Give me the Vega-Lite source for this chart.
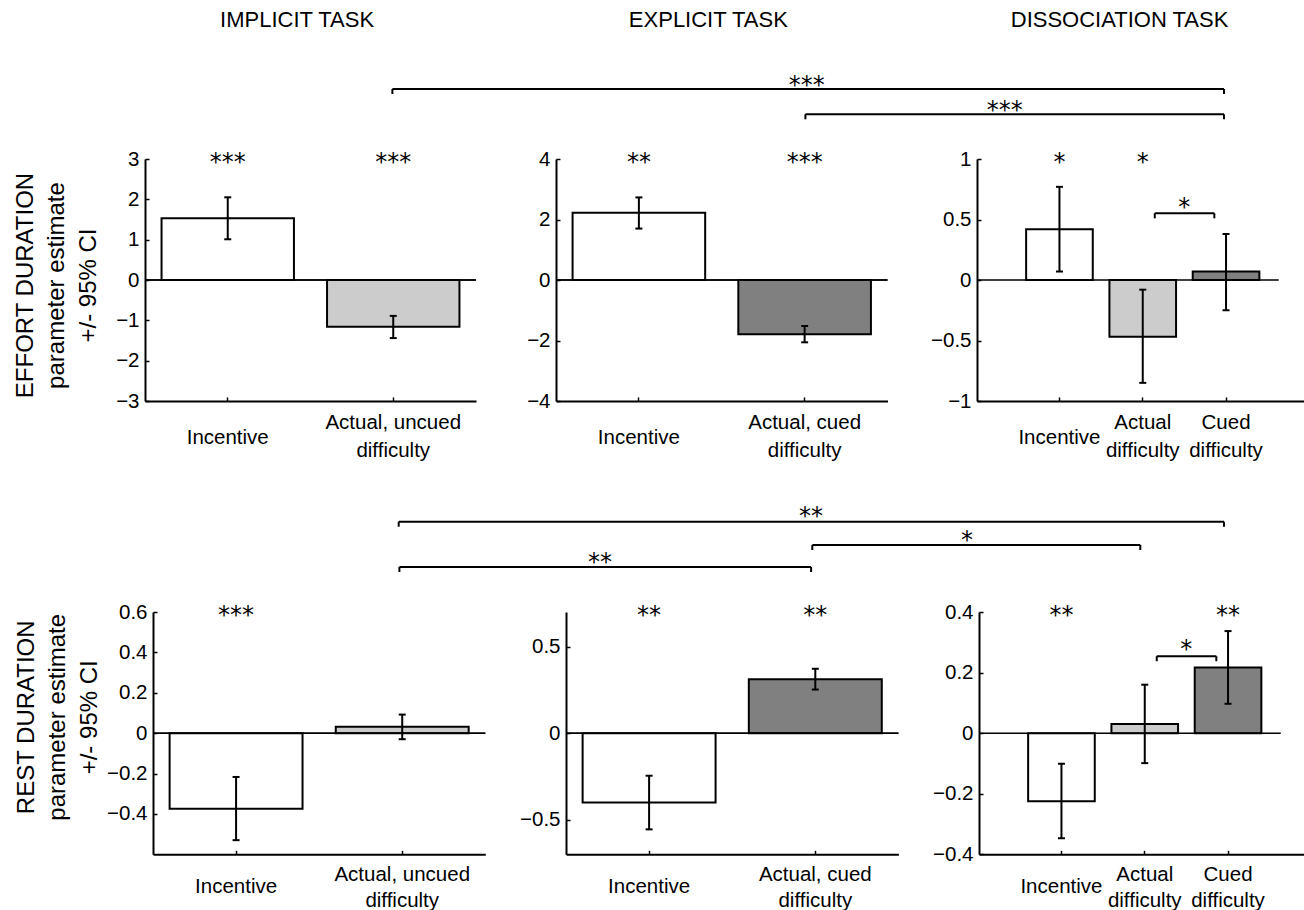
{
  "$schema": "https://vega.github.io/schema/vega-lite/v6.json",
  "background": "white",
  "padding": {"left": 0, "top": 0, "right": 0, "bottom": 0},
  "datasets": {
    "effortImplicit": [
      {"condition": "Incentive", "kind": "incentive", "estimate": 1.53, "lo": 1.01, "hi": 2.05, "sig": "***"},
      {"condition": "Actual, uncued difficulty", "kind": "uncued", "estimate": -1.16, "lo": -1.44, "hi": -0.89, "sig": "***"}
    ],
    "effortExplicit": [
      {"condition": "Incentive", "kind": "incentive", "estimate": 2.22, "lo": 1.70, "hi": 2.73, "sig": "**"},
      {"condition": "Actual, cued difficulty", "kind": "cued", "estimate": -1.79, "lo": -2.06, "hi": -1.52, "sig": "***"}
    ],
    "effortDissociation": [
      {"condition": "Incentive", "kind": "incentive", "estimate": 0.42, "lo": 0.07, "hi": 0.77, "sig": "*"},
      {"condition": "Actual difficulty", "kind": "uncued", "estimate": -0.47, "lo": -0.85, "hi": -0.08, "sig": "*"},
      {"condition": "Cued difficulty", "kind": "cued", "estimate": 0.07, "lo": -0.25, "hi": 0.38, "sig": ""}
    ],
    "restImplicit": [
      {"condition": "Incentive", "kind": "incentive", "estimate": -0.375, "lo": -0.53, "hi": -0.217, "sig": "***"},
      {"condition": "Actual, uncued difficulty", "kind": "uncued", "estimate": 0.032, "lo": -0.03, "hi": 0.092, "sig": ""}
    ],
    "restExplicit": [
      {"condition": "Incentive", "kind": "incentive", "estimate": -0.40, "lo": -0.556, "hi": -0.246, "sig": "**"},
      {"condition": "Actual, cued difficulty", "kind": "cued", "estimate": 0.312, "lo": 0.252, "hi": 0.372, "sig": "**"}
    ],
    "restDissociation": [
      {"condition": "Incentive", "kind": "incentive", "estimate": -0.225, "lo": -0.347, "hi": -0.101, "sig": "**"},
      {"condition": "Actual difficulty", "kind": "uncued", "estimate": 0.030, "lo": -0.099, "hi": 0.160, "sig": ""},
      {"condition": "Cued difficulty", "kind": "cued", "estimate": 0.217, "lo": 0.097, "hi": 0.337, "sig": "**"}
    ],
    "effortWithinDissociation": [
      {"from": "Actual difficulty", "to": "Cued difficulty", "level": 0.551, "sig": "*"}
    ],
    "restWithinDissociation": [
      {"from": "Actual difficulty", "to": "Cued difficulty", "level": 0.254, "sig": "*"}
    ],
    "taskTitles": [
      {"task": "IMPLICIT TASK"},
      {"task": "EXPLICIT TASK"},
      {"task": "DISSOCIATION TASK"}
    ],
    "effortAcrossTasks": [
      {"left": 391.7, "right": 1223.3, "level": 89, "mid": 806, "sig": "***"},
      {"left": 804.7, "right": 1223.3, "level": 114.3, "mid": 1004, "sig": "***"}
    ],
    "restAcrossTasks": [
      {"left": 398, "right": 1223.3, "level": 521.7, "mid": 810.4, "sig": "**"},
      {"left": 811.6, "right": 1139.6, "level": 545, "mid": 966.4, "sig": "*"},
      {"left": 398.7, "right": 810.4, "level": 567, "mid": 599.4, "sig": "**"}
    ],
    "gap": [{"gap": 0}],
    "frame": [{"frame": "layout anchor"}]
  },
  "vconcat": [
    {
      "width": 1159.7,
      "height": 40,
      "layer": [
        {
          "data": {"name": "taskTitles"},
          "mark": {"type": "text", "font": "Liberation Sans", "fontSize": 22, "baseline": "middle", "align": "center", "color": "black"},
          "encoding": {
            "x": {"field": "task", "type": "nominal", "sort": null, "scale": {"type": "point", "padding": 0.41, "align": 0.451}, "axis": null},
            "text": {"field": "task"}
          }
        },
        {
          "data": {"name": "frame"},
          "mark": {"type": "rule", "strokeOpacity": 0},
          "encoding": {
            "y": {"datum": 0, "type": "quantitative", "scale": {"domain": [0, 1], "nice": false, "zero": false}, "axis": null},
            "y2": {"datum": 1}
          }
        }
      ]
    },
    {
      "width": 1159.7,
      "height": 89,
      "layer": [
        {
          "data": {"name": "frame"},
          "mark": {"type": "rule", "strokeOpacity": 0},
          "encoding": {
            "x": {"datum": 0, "type": "quantitative", "scale": {"domain": [144.3, 1304], "nice": false, "zero": false}, "axis": null},
            "y": {"datum": 40, "type": "quantitative", "scale": {"domain": [129, 40], "nice": false, "zero": false}, "axis": null},
            "y2": {"datum": 129}
          }
        },
        {
          "data": {"name": "effortAcrossTasks"},
          "encoding": {
            "x": {"field": "left", "type": "quantitative", "axis": null},
            "y": {"field": "level", "type": "quantitative", "axis": null}
          },
          "layer": [
            {"mark": {"type": "rule", "color": "black", "strokeWidth": 2}, "encoding": {"x2": {"field": "right"}}},
            {"mark": {"type": "rule", "color": "black", "strokeWidth": 2, "y2Offset": 5}, "encoding": {"y2": {"field": "level"}}},
            {"mark": {"type": "rule", "color": "black", "strokeWidth": 2, "y2Offset": 5}, "encoding": {"x": {"field": "right", "type": "quantitative", "axis": null}, "y2": {"field": "level"}}},
            {"mark": {"type": "text", "font": "DejaVu Sans", "fontSize": 24, "baseline": "alphabetic", "dy": 3.7, "color": "black"}, "encoding": {"x": {"field": "mid", "type": "quantitative", "axis": null}, "text": {"field": "sig"}}}
          ]
        }
      ]
    },
    {
      "hconcat": [
        {
          "width": 331, "height": 242,
          "data": {"name": "effortImplicit"},
          "layer": [
            {
              "mark": {"type": "bar", "stroke": "black", "strokeWidth": 2, "opacity": 1},
              "encoding": {
                "x": {"field": "condition", "type": "nominal", "sort": null, "scale": {"domain": ["Incentive", "Actual, uncued difficulty"], "paddingInner": 0.2, "paddingOuter": 0.1},
                  "axis": {"title": null, "labelExpr": "split(replace(datum.label, ' difficulty', '|difficulty'), '|')", "labelPadding": {"condition": {"test": "indexof(datum.value, 'difficulty') >= 0", "value": 25}, "value": 40.2}}},
                "y": {"field": "estimate", "type": "quantitative", "scale": {"domain": [-3, 3], "nice": false, "zero": false},
                  "axis": {"values": [-3, -2, -1, 0, 1, 2, 3], "format": ".1~f", "title": ["EFFORT DURATION", "parameter estimate", "+/- 95% CI"], "titleX": -112.6, "titleY": 126}},
                "y2": {"datum": 0},
                "fill": {"field": "kind", "type": "nominal", "scale": {"domain": ["incentive", "uncued", "cued"], "range": ["#ffffff", "#cccccc", "#808080"]}, "legend": null}
              }
            },
            {"mark": {"type": "rule", "color": "black", "strokeWidth": 1.5}, "encoding": {"y": {"datum": 0, "type": "quantitative"}}},
            {"mark": {"type": "rule", "color": "black", "strokeWidth": 2}, "encoding": {"x": {"field": "condition", "type": "nominal", "title": null}, "y": {"field": "lo", "type": "quantitative"}, "y2": {"field": "hi"}}},
            {"mark": {"type": "tick", "color": "black", "thickness": 2, "size": 7, "opacity": 1}, "encoding": {"x": {"field": "condition", "type": "nominal", "title": null}, "y": {"field": "lo", "type": "quantitative"}}},
            {"mark": {"type": "tick", "color": "black", "thickness": 2, "size": 7, "opacity": 1}, "encoding": {"x": {"field": "condition", "type": "nominal", "title": null}, "y": {"field": "hi", "type": "quantitative"}}},
            {"mark": {"type": "text", "font": "DejaVu Sans", "fontSize": 24, "baseline": "alphabetic", "dy": 10.5, "color": "black"}, "encoding": {"x": {"field": "condition", "type": "nominal", "title": null}, "y": {"datum": 3, "type": "quantitative"}, "text": {"field": "sig"}}},
            {"mark": {"type": "rule", "strokeOpacity": 0, "yOffset": -30, "y2Offset": 80}, "encoding": {"y": {"datum": 3, "type": "quantitative"}, "y2": {"datum": -3}}}
          ]
        },
        {"width": 80, "height": 242, "data": {"name": "gap"}, "mark": {"type": "point", "opacity": 0, "size": 1}, "encoding": {"x": {"field": "gap", "type": "quantitative", "axis": null}, "y": {"field": "gap", "type": "quantitative", "axis": null}}},
        {
          "width": 331.5, "height": 242,
          "data": {"name": "effortExplicit"},
          "layer": [
            {
              "mark": {"type": "bar", "stroke": "black", "strokeWidth": 2, "opacity": 1},
              "encoding": {
                "x": {"field": "condition", "type": "nominal", "sort": null, "scale": {"domain": ["Incentive", "Actual, cued difficulty"], "paddingInner": 0.2, "paddingOuter": 0.1},
                  "axis": {"title": null, "labelExpr": "split(replace(datum.label, ' difficulty', '|difficulty'), '|')", "labelPadding": {"condition": {"test": "indexof(datum.value, 'difficulty') >= 0", "value": 25}, "value": 40.2}}},
                "y": {"field": "estimate", "type": "quantitative", "scale": {"domain": [-4, 4], "nice": false, "zero": false},
                  "axis": {"values": [-4, -2, 0, 2, 4], "format": ".1~f", "title": null}},
                "y2": {"datum": 0},
                "fill": {"field": "kind", "type": "nominal", "scale": {"domain": ["incentive", "uncued", "cued"], "range": ["#ffffff", "#cccccc", "#808080"]}, "legend": null}
              }
            },
            {"mark": {"type": "rule", "color": "black", "strokeWidth": 1.5}, "encoding": {"y": {"datum": 0, "type": "quantitative"}}},
            {"mark": {"type": "rule", "color": "black", "strokeWidth": 2}, "encoding": {"x": {"field": "condition", "type": "nominal", "title": null}, "y": {"field": "lo", "type": "quantitative"}, "y2": {"field": "hi"}}},
            {"mark": {"type": "tick", "color": "black", "thickness": 2, "size": 7, "opacity": 1}, "encoding": {"x": {"field": "condition", "type": "nominal", "title": null}, "y": {"field": "lo", "type": "quantitative"}}},
            {"mark": {"type": "tick", "color": "black", "thickness": 2, "size": 7, "opacity": 1}, "encoding": {"x": {"field": "condition", "type": "nominal", "title": null}, "y": {"field": "hi", "type": "quantitative"}}},
            {"mark": {"type": "text", "font": "DejaVu Sans", "fontSize": 24, "baseline": "alphabetic", "dy": 10.5, "color": "black"}, "encoding": {"x": {"field": "condition", "type": "nominal", "title": null}, "y": {"datum": 4, "type": "quantitative"}, "text": {"field": "sig"}}}
          ]
        },
        {"width": 88.2, "height": 242, "data": {"name": "gap"}, "mark": {"type": "point", "opacity": 0, "size": 1}, "encoding": {"x": {"field": "gap", "type": "quantitative", "axis": null}, "y": {"field": "gap", "type": "quantitative", "axis": null}}},
        {
          "width": 329, "height": 242,
          "data": {"name": "effortDissociation"},
          "layer": [
            {
              "mark": {"type": "bar", "stroke": "black", "strokeWidth": 2, "opacity": 1},
              "encoding": {
                "x": {"field": "condition", "type": "nominal", "sort": null, "scale": {"domain": ["Incentive", "Actual difficulty", "Cued difficulty"], "paddingInner": 0.2, "paddingOuter": 0.575, "align": 0.513},
                  "axis": {"title": null, "labelExpr": "split(replace(datum.label, ' difficulty', '|difficulty'), '|')", "labelPadding": {"condition": {"test": "indexof(datum.value, 'difficulty') >= 0", "value": 25}, "value": 40.2}}},
                "y": {"field": "estimate", "type": "quantitative", "scale": {"domain": [-1, 1], "nice": false, "zero": false},
                  "axis": {"values": [-1, -0.5, 0, 0.5, 1], "format": ".1~f", "title": null}},
                "y2": {"datum": 0},
                "fill": {"field": "kind", "type": "nominal", "scale": {"domain": ["incentive", "uncued", "cued"], "range": ["#ffffff", "#cccccc", "#808080"]}, "legend": null}
              }
            },
            {"transform": [{"filter": "datum.condition == 'Actual difficulty'"}], "mark": {"type": "tick", "orient": "horizontal", "color": "black", "thickness": 1.5, "size": 301.7, "xOffset": -14.85, "opacity": 1}, "encoding": {"x": {"field": "condition", "type": "nominal", "title": null}, "y": {"datum": 0, "type": "quantitative"}}},
            {"mark": {"type": "rule", "color": "black", "strokeWidth": 2}, "encoding": {"x": {"field": "condition", "type": "nominal", "title": null}, "y": {"field": "lo", "type": "quantitative"}, "y2": {"field": "hi"}}},
            {"mark": {"type": "tick", "color": "black", "thickness": 2, "size": 7, "opacity": 1}, "encoding": {"x": {"field": "condition", "type": "nominal", "title": null}, "y": {"field": "lo", "type": "quantitative"}}},
            {"mark": {"type": "tick", "color": "black", "thickness": 2, "size": 7, "opacity": 1}, "encoding": {"x": {"field": "condition", "type": "nominal", "title": null}, "y": {"field": "hi", "type": "quantitative"}}},
            {"mark": {"type": "text", "font": "DejaVu Sans", "fontSize": 24, "baseline": "alphabetic", "dy": 10.5, "color": "black"}, "encoding": {"x": {"field": "condition", "type": "nominal", "title": null}, "y": {"datum": 1, "type": "quantitative"}, "text": {"field": "sig"}}},
            {
              "data": {"name": "effortWithinDissociation"},
              "layer": [
                {"mark": {"type": "tick", "orient": "horizontal", "color": "black", "thickness": 2, "size": 59.6, "xOffset": 41.8, "opacity": 1}, "encoding": {"x": {"field": "from", "type": "nominal", "title": null}, "y": {"field": "level", "type": "quantitative", "title": null}}},
                {"mark": {"type": "rule", "color": "black", "strokeWidth": 2, "xOffset": 12, "y2Offset": 5}, "encoding": {"x": {"field": "from", "type": "nominal", "title": null}, "y": {"field": "level", "type": "quantitative", "title": null}, "y2": {"field": "level"}}},
                {"mark": {"type": "rule", "color": "black", "strokeWidth": 2, "xOffset": -11.7, "y2Offset": 5}, "encoding": {"x": {"field": "to", "type": "nominal", "title": null}, "y": {"field": "level", "type": "quantitative", "title": null}, "y2": {"field": "level"}}},
                {"mark": {"type": "text", "font": "DejaVu Sans", "fontSize": 24, "baseline": "alphabetic", "dx": 41.6, "dy": 1.5, "color": "black"}, "encoding": {"x": {"field": "from", "type": "nominal", "title": null}, "y": {"field": "level", "type": "quantitative", "title": null}, "text": {"field": "sig"}}}
              ]
            }
          ]
        }
      ],
      "spacing": 0,
      "bounds": "flush"
    },
    {
      "width": 1159.7,
      "height": 100.7,
      "layer": [
        {
          "data": {"name": "frame"},
          "mark": {"type": "rule", "strokeOpacity": 0},
          "encoding": {
            "x": {"datum": 0, "type": "quantitative", "scale": {"domain": [144.3, 1304], "nice": false, "zero": false}, "axis": null},
            "y": {"datum": 481, "type": "quantitative", "scale": {"domain": [581.7, 481], "nice": false, "zero": false}, "axis": null},
            "y2": {"datum": 581.7}
          }
        },
        {
          "data": {"name": "restAcrossTasks"},
          "encoding": {
            "x": {"field": "left", "type": "quantitative", "axis": null},
            "y": {"field": "level", "type": "quantitative", "axis": null}
          },
          "layer": [
            {"mark": {"type": "rule", "color": "black", "strokeWidth": 2}, "encoding": {"x2": {"field": "right"}}},
            {"mark": {"type": "rule", "color": "black", "strokeWidth": 2, "y2Offset": 5}, "encoding": {"y2": {"field": "level"}}},
            {"mark": {"type": "rule", "color": "black", "strokeWidth": 2, "y2Offset": 5}, "encoding": {"x": {"field": "right", "type": "quantitative", "axis": null}, "y2": {"field": "level"}}},
            {"mark": {"type": "text", "font": "DejaVu Sans", "fontSize": 24, "baseline": "alphabetic", "dy": 2.7, "color": "black"}, "encoding": {"x": {"field": "mid", "type": "quantitative", "axis": null}, "text": {"field": "sig"}}}
          ]
        }
      ]
    },
    {
      "hconcat": [
        {"width": 7.4, "height": 242.3, "data": {"name": "gap"}, "mark": {"type": "point", "opacity": 0, "size": 1}, "encoding": {"x": {"field": "gap", "type": "quantitative", "axis": null}, "y": {"field": "gap", "type": "quantitative", "axis": null}}},
        {
          "width": 332.3, "height": 242.3,
          "data": {"name": "restImplicit"},
          "layer": [
            {
              "mark": {"type": "bar", "stroke": "black", "strokeWidth": 2, "opacity": 1},
              "encoding": {
                "x": {"field": "condition", "type": "nominal", "sort": null, "scale": {"domain": ["Incentive", "Actual, uncued difficulty"], "paddingInner": 0.2, "paddingOuter": 0.1},
                  "axis": {"title": null, "labelLineHeight": 26.5, "labelExpr": "split(replace(datum.label, ' difficulty', '|difficulty'), '|')", "labelPadding": {"condition": {"test": "indexof(datum.value, 'difficulty') >= 0", "value": 24}, "value": 36.2}}},
                "y": {"field": "estimate", "type": "quantitative", "scale": {"domain": [-0.6, 0.6], "nice": false, "zero": false},
                  "axis": {"values": [-0.4, -0.2, 0, 0.2, 0.4, 0.6], "format": ".1~f", "title": ["REST DURATION", "parameter estimate", "+/- 95% CI"], "titleX": -120, "titleY": 104.8}},
                "y2": {"datum": 0},
                "fill": {"field": "kind", "type": "nominal", "scale": {"domain": ["incentive", "uncued", "cued"], "range": ["#ffffff", "#cccccc", "#808080"]}, "legend": null}
              }
            },
            {"mark": {"type": "rule", "color": "black", "strokeWidth": 1.5}, "encoding": {"y": {"datum": 0, "type": "quantitative"}}},
            {"mark": {"type": "rule", "color": "black", "strokeWidth": 2}, "encoding": {"x": {"field": "condition", "type": "nominal", "title": null}, "y": {"field": "lo", "type": "quantitative"}, "y2": {"field": "hi"}}},
            {"mark": {"type": "tick", "color": "black", "thickness": 2, "size": 7, "opacity": 1}, "encoding": {"x": {"field": "condition", "type": "nominal", "title": null}, "y": {"field": "lo", "type": "quantitative"}}},
            {"mark": {"type": "tick", "color": "black", "thickness": 2, "size": 7, "opacity": 1}, "encoding": {"x": {"field": "condition", "type": "nominal", "title": null}, "y": {"field": "hi", "type": "quantitative"}}},
            {"mark": {"type": "text", "font": "DejaVu Sans", "fontSize": 24, "baseline": "alphabetic", "dy": 10.5, "color": "black"}, "encoding": {"x": {"field": "condition", "type": "nominal", "title": null}, "y": {"datum": 0.6, "type": "quantitative"}, "text": {"field": "sig"}}},
            {"mark": {"type": "rule", "strokeOpacity": 0, "yOffset": -30, "y2Offset": 50}, "encoding": {"y": {"datum": 0.6, "type": "quantitative"}, "y2": {"datum": -0.6}}}
          ]
        },
        {"width": 79.3, "height": 242.3, "data": {"name": "gap"}, "mark": {"type": "point", "opacity": 0, "size": 1}, "encoding": {"x": {"field": "gap", "type": "quantitative", "axis": null}, "y": {"field": "gap", "type": "quantitative", "axis": null}}},
        {
          "width": 332.4, "height": 242.3,
          "data": {"name": "restExplicit"},
          "layer": [
            {
              "mark": {"type": "bar", "stroke": "black", "strokeWidth": 2, "opacity": 1},
              "encoding": {
                "x": {"field": "condition", "type": "nominal", "sort": null, "scale": {"domain": ["Incentive", "Actual, cued difficulty"], "paddingInner": 0.2, "paddingOuter": 0.1},
                  "axis": {"title": null, "labelLineHeight": 26.5, "labelExpr": "split(replace(datum.label, ' difficulty', '|difficulty'), '|')", "labelPadding": {"condition": {"test": "indexof(datum.value, 'difficulty') >= 0", "value": 24}, "value": 36.2}}},
                "y": {"field": "estimate", "type": "quantitative", "scale": {"domain": [-0.7, 0.7], "nice": false, "zero": false},
                  "axis": {"values": [-0.5, 0, 0.5], "format": ".1~f", "title": null}},
                "y2": {"datum": 0},
                "fill": {"field": "kind", "type": "nominal", "scale": {"domain": ["incentive", "uncued", "cued"], "range": ["#ffffff", "#cccccc", "#808080"]}, "legend": null}
              }
            },
            {"mark": {"type": "rule", "color": "black", "strokeWidth": 1.5}, "encoding": {"y": {"datum": 0, "type": "quantitative"}}},
            {"mark": {"type": "rule", "color": "black", "strokeWidth": 2}, "encoding": {"x": {"field": "condition", "type": "nominal", "title": null}, "y": {"field": "lo", "type": "quantitative"}, "y2": {"field": "hi"}}},
            {"mark": {"type": "tick", "color": "black", "thickness": 2, "size": 7, "opacity": 1}, "encoding": {"x": {"field": "condition", "type": "nominal", "title": null}, "y": {"field": "lo", "type": "quantitative"}}},
            {"mark": {"type": "tick", "color": "black", "thickness": 2, "size": 7, "opacity": 1}, "encoding": {"x": {"field": "condition", "type": "nominal", "title": null}, "y": {"field": "hi", "type": "quantitative"}}},
            {"mark": {"type": "text", "font": "DejaVu Sans", "fontSize": 24, "baseline": "alphabetic", "dy": 10.5, "color": "black"}, "encoding": {"x": {"field": "condition", "type": "nominal", "title": null}, "y": {"datum": 0.7, "type": "quantitative"}, "text": {"field": "sig"}}}
          ]
        },
        {"width": 79.3, "height": 242.3, "data": {"name": "gap"}, "mark": {"type": "point", "opacity": 0, "size": 1}, "encoding": {"x": {"field": "gap", "type": "quantitative", "axis": null}, "y": {"field": "gap", "type": "quantitative", "axis": null}}},
        {
          "width": 329, "height": 242.3,
          "data": {"name": "restDissociation"},
          "layer": [
            {
              "mark": {"type": "bar", "stroke": "black", "strokeWidth": 2, "opacity": 1},
              "encoding": {
                "x": {"field": "condition", "type": "nominal", "sort": null, "scale": {"domain": ["Incentive", "Actual difficulty", "Cued difficulty"], "paddingInner": 0.2, "paddingOuter": 0.575, "align": 0.513},
                  "axis": {"title": null, "labelLineHeight": 26.5, "labelExpr": "split(replace(datum.label, ' difficulty', '|difficulty'), '|')", "labelPadding": {"condition": {"test": "indexof(datum.value, 'difficulty') >= 0", "value": 24}, "value": 36.2}}},
                "y": {"field": "estimate", "type": "quantitative", "scale": {"domain": [-0.4, 0.4], "nice": false, "zero": false},
                  "axis": {"values": [-0.4, -0.2, 0, 0.2, 0.4], "format": ".1~f", "title": null}},
                "y2": {"datum": 0},
                "fill": {"field": "kind", "type": "nominal", "scale": {"domain": ["incentive", "uncued", "cued"], "range": ["#ffffff", "#cccccc", "#808080"]}, "legend": null}
              }
            },
            {"transform": [{"filter": "datum.condition == 'Actual difficulty'"}], "mark": {"type": "tick", "orient": "horizontal", "color": "black", "thickness": 1.5, "size": 301.7, "xOffset": -14.85, "opacity": 1}, "encoding": {"x": {"field": "condition", "type": "nominal", "title": null}, "y": {"datum": 0, "type": "quantitative"}}},
            {"mark": {"type": "rule", "color": "black", "strokeWidth": 2}, "encoding": {"x": {"field": "condition", "type": "nominal", "title": null}, "y": {"field": "lo", "type": "quantitative"}, "y2": {"field": "hi"}}},
            {"mark": {"type": "tick", "color": "black", "thickness": 2, "size": 7, "opacity": 1}, "encoding": {"x": {"field": "condition", "type": "nominal", "title": null}, "y": {"field": "lo", "type": "quantitative"}}},
            {"mark": {"type": "tick", "color": "black", "thickness": 2, "size": 7, "opacity": 1}, "encoding": {"x": {"field": "condition", "type": "nominal", "title": null}, "y": {"field": "hi", "type": "quantitative"}}},
            {"mark": {"type": "text", "font": "DejaVu Sans", "fontSize": 24, "baseline": "alphabetic", "dy": 10.5, "color": "black"}, "encoding": {"x": {"field": "condition", "type": "nominal", "title": null}, "y": {"datum": 0.4, "type": "quantitative"}, "text": {"field": "sig"}}},
            {
              "data": {"name": "restWithinDissociation"},
              "layer": [
                {"mark": {"type": "tick", "orient": "horizontal", "color": "black", "thickness": 2, "size": 59.6, "xOffset": 41.8, "opacity": 1}, "encoding": {"x": {"field": "from", "type": "nominal", "title": null}, "y": {"field": "level", "type": "quantitative", "title": null}}},
                {"mark": {"type": "rule", "color": "black", "strokeWidth": 2, "xOffset": 12, "y2Offset": 5}, "encoding": {"x": {"field": "from", "type": "nominal", "title": null}, "y": {"field": "level", "type": "quantitative", "title": null}, "y2": {"field": "level"}}},
                {"mark": {"type": "rule", "color": "black", "strokeWidth": 2, "xOffset": -11.7, "y2Offset": 5}, "encoding": {"x": {"field": "to", "type": "nominal", "title": null}, "y": {"field": "level", "type": "quantitative", "title": null}, "y2": {"field": "level"}}},
                {"mark": {"type": "text", "font": "DejaVu Sans", "fontSize": 24, "baseline": "alphabetic", "dx": 41.6, "dy": 0.7, "color": "black"}, "encoding": {"x": {"field": "from", "type": "nominal", "title": null}, "y": {"field": "level", "type": "quantitative", "title": null}, "text": {"field": "sig"}}}
              ]
            }
          ]
        }
      ],
      "spacing": 0,
      "bounds": "flush"
    }
  ],
  "spacing": 0,
  "config": {
    "view": {"stroke": null},
    "axis": {
      "grid": false,
      "domainColor": "black",
      "domainWidth": 2,
      "tickColor": "black",
      "tickWidth": 1.5,
      "tickSize": -4,
      "labelColor": "black",
      "labelFont": "Liberation Sans",
      "labelFontSize": 20.5,
      "titleColor": "black",
      "titleFont": "Liberation Sans",
      "labelOverlap": false,
      "labelBound": false,
      "labelFlush": false
    },
    "axisX": {
      "labelAngle": 0,
      "labelBaseline": "middle",
      "labelLineHeight": 28,
      "labelLimit": 300
    },
    "axisY": {
      "labelPadding": 10,
      "titleFontSize": 24,
      "titleFontWeight": "normal",
      "titleAngle": -90,
      "titleBaseline": "alphabetic",
      "titleAlign": "center",
      "titleLineHeight": 31.5
    }
  }
}
